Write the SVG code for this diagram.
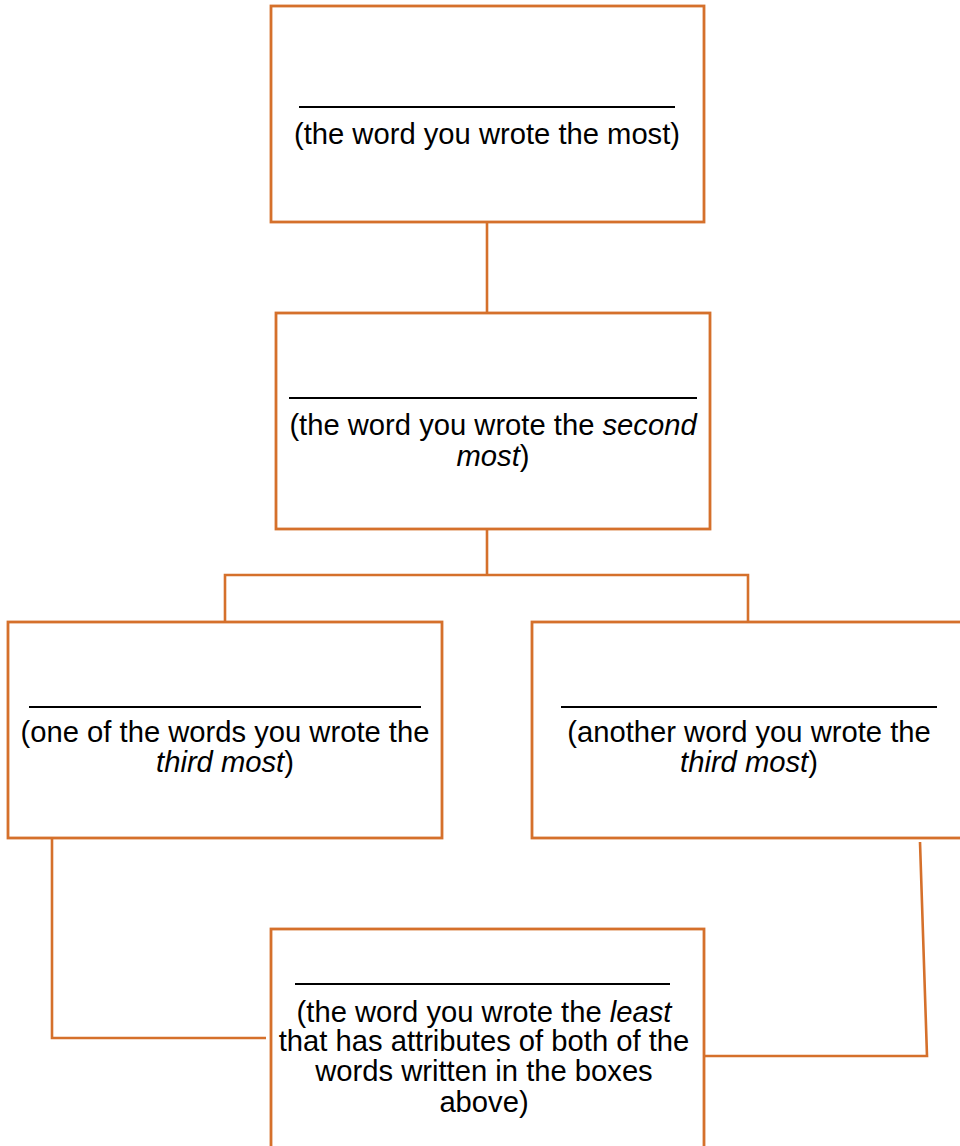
<svg xmlns="http://www.w3.org/2000/svg" width="960" height="1146" viewBox="0 0 960 1146">
<style>
.box{fill:#fff;stroke:#D5702B;stroke-width:2.8}
.con{fill:none;stroke:#D5702B;stroke-width:2.6}
.ul{stroke:#000;stroke-width:1.8}
text{font-family:"Liberation Sans",Arial,sans-serif;font-size:29.2px;fill:#000;text-anchor:middle}
.i{font-style:italic}
</style>
<rect width="960" height="1146" fill="#fff"/>
<g id="connectors">
<path class="con" d="M487 222V313"/>
<path class="con" d="M487 529V575M225 622V575H748V622"/>
<path class="con" d="M52 838V1038H266"/>
<path class="con" d="M920 842L927 1056H704"/>
</g>
<g id="node-most">
<rect class="box" x="271" y="6" width="433" height="216"/>
<line class="ul" x1="299" y1="107" x2="675" y2="107"/>
<text x="487" y="144">(the word you wrote the most)</text>
</g>
<g id="node-second">
<rect class="box" x="276" y="313" width="434" height="216"/>
<line class="ul" x1="289" y1="398" x2="697" y2="398"/>
<text x="493" y="435">(the word you wrote the <tspan class="i">second</tspan></text>
<text x="493" y="466"><tspan class="i">most</tspan>)</text>
</g>
<g id="node-third-a">
<rect class="box" x="8" y="622" width="434" height="216"/>
<line class="ul" x1="29" y1="707" x2="421" y2="707"/>
<text x="225" y="742">(one of the words you wrote the</text>
<text x="225" y="772"><tspan class="i">third most</tspan>)</text>
</g>
<g id="node-third-b">
<rect class="box" x="532" y="622" width="434" height="216"/>
<line class="ul" x1="561" y1="707" x2="937" y2="707"/>
<text x="749" y="742">(another word you wrote the</text>
<text x="749" y="772"><tspan class="i">third most</tspan>)</text>
</g>
<g id="node-least">
<rect class="box" x="271" y="929" width="433" height="220"/>
<line class="ul" x1="295" y1="984" x2="670" y2="984"/>
<text x="484" y="1022">(the word you wrote the <tspan class="i">least</tspan></text>
<text x="484" y="1051">that has attributes of both of the</text>
<text x="484" y="1081">words written in the boxes</text>
<text x="484" y="1112">above)</text>
</g>
</svg>
